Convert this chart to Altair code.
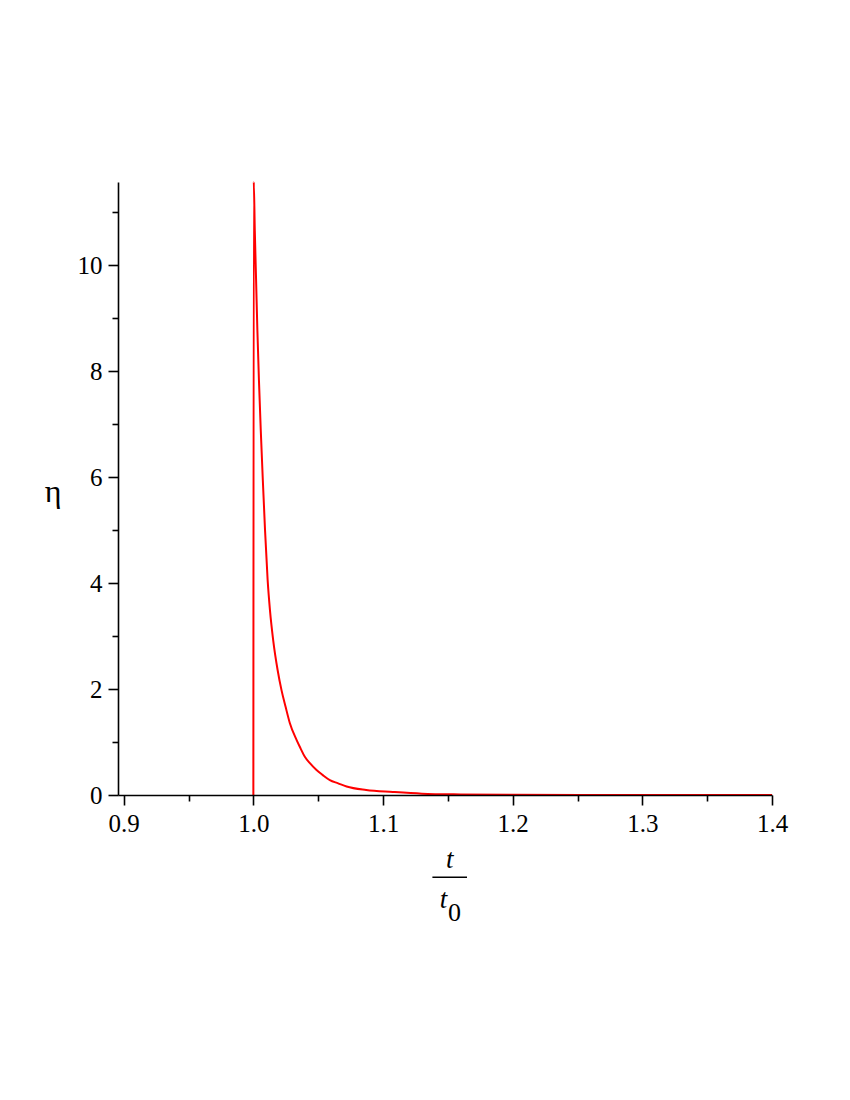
import altair as alt
import pandas as pd

# curve: t/t0 and eta
t_vals = [1.0, 1.0003, 1.0011, 1.0021, 1.0031, 1.0043, 1.0057, 1.0073, 1.0090, 1.0110,
          1.0128, 1.0153, 1.0187, 1.0217, 1.0248, 1.0281, 1.0333, 1.0364, 1.0397,
          1.0436, 1.0487, 1.0533, 1.059, 1.0654, 1.0719, 1.087, 1.1076, 1.13, 1.16,
          1.2, 1.3, 1.4]
eta_vals = [0.0, 11.57, 10.66, 9.72, 8.77, 7.83, 6.89, 5.94, 5.0, 4.06,
            3.49, 2.92, 2.36, 1.98, 1.67, 1.36, 1.04, 0.88, 0.72,
            0.6, 0.47, 0.38, 0.28, 0.22, 0.16, 0.094, 0.057, 0.025, 0.01,
            0.003, 0.0, 0.0]

x_major = [0.9, 1.0, 1.1, 1.2, 1.3, 1.4]
x_minor = [0.95, 1.05, 1.15, 1.25, 1.35]
y_major = [0, 2, 4, 6, 8, 10]
y_minor = [1, 3, 5, 7, 9, 11]

x_domain = [0.8956, 1.4]
y_domain = [0, 11.57]

df = pd.DataFrame({"t": t_vals, "eta": eta_vals, "i": list(range(len(t_vals)))})

FONT = "Liberation Serif"
W, H = 654, 613

xs = alt.Scale(domain=x_domain, nice=False, zero=False)
ys = alt.Scale(domain=y_domain, nice=False, zero=True)

curve = alt.Chart(df).mark_line(color="#ff0000", strokeWidth=2, interpolate="monotone").encode(
    x=alt.X("t:Q", scale=xs,
            axis=alt.Axis(values=x_major, format=".1f", tickSize=10, labelPadding=6,
                          labelFont=FONT, labelFontSize=25,
                          title=None, orient="bottom", zindex=1, labelFlush=False,
                          labelOverlap=False)),
    y=alt.Y("eta:Q", scale=ys,
            axis=alt.Axis(values=y_major, format="d", tickSize=10, labelPadding=6,
                          labelFont=FONT, labelFontSize=25,
                          title=None, orient="left", zindex=1, labelOverlap=False)),
    order="i:Q",
)

minor = alt.Chart(df).mark_point(opacity=0).encode(
    x=alt.X("t:Q", scale=xs,
            axis=alt.Axis(values=x_minor, tickSize=6, labels=False, domain=False,
                          title=None, orient="bottom", zindex=1)),
    y=alt.Y("eta:Q", scale=ys,
            axis=alt.Axis(values=y_minor, tickSize=6, labels=False, domain=False,
                          title=None, orient="left", zindex=1)),
)

one = alt.Data(values=[{}])

def txt(s, x, y, size=25, italic=False, align="center"):
    return alt.Chart(one).mark_text(
        text=s, font=FONT, fontSize=size, fontStyle="italic" if italic else "normal",
        align=align, baseline="alphabetic", color="black"
    ).encode(x=alt.value(x), y=alt.value(y))

num_t = txt("t", 331.7, 685.5, size=27, italic=True)
den_t = txt("t", 325.5, 725.7, size=27, italic=True)
den_0 = txt("0", 336.5, 739.0, size=26)
frac_line = alt.Chart(one).mark_rule(color="black", strokeWidth=1.6).encode(
    x=alt.value(314.4), x2=alt.value(349.0), y=alt.value(695.3)
)
eta_title = txt("η", -64.8, 320.0, size=32)

chart = alt.layer(curve, minor, num_t, den_t, den_0, frac_line, eta_title).resolve_axis(
    x="independent", y="independent"
).properties(
    width=W, height=H,
    autosize=alt.AutoSizeParams(type="none"),
    padding={"left": 110, "top": 174, "right": 70, "bottom": 250},
).configure(font=FONT).configure_view(stroke=None).configure_axis(
    labelFont=FONT, labelFontSize=25, labelColor="black",
    domainColor="black", domainWidth=1.6, tickColor="black", tickWidth=1.6,
    grid=False,
)

chart.save("out.html", embed_options={"renderer": "svg", "actions": False})
